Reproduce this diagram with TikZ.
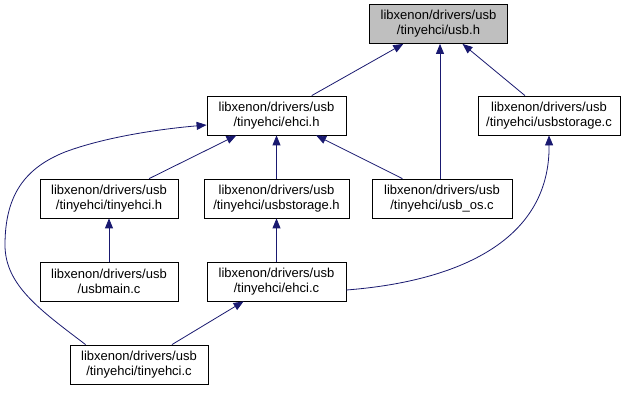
\documentclass[tikz,border=0pt]{standalone}
\usepackage{fontspec}
\setmainfont{Liberation Sans}
\usetikzlibrary{arrows.meta,calc}
\definecolor{edgecol}{HTML}{191970}
\definecolor{nodegray}{HTML}{BFBFBF}
\begin{document}
\begin{tikzpicture}[x=1pt,y=-1pt,
  box/.style={draw=black, fill=white, line width=0.8pt, minimum height=39pt, inner sep=0pt, align=center, font=\fontsize{13}{15}\selectfont},
  edge/.style={draw=edgecol, line width=0.8pt, -{Triangle[length=10pt,width=8pt]}}]
\useasboundingbox[fill=white] (0,0) rectangle (630,409);
\node[box, fill=nodegray, minimum width=138pt] (usbh) at (438.5,24) {libxenon/drivers/usb\\/tinyehci/usb.h};
\node[box, minimum width=139pt] (ehcih) at (276.5,115.5) {libxenon/drivers/usb\\/tinyehci/ehci.h};
\node[box, minimum width=142pt] (usbstc) at (549,115.5) {libxenon/drivers/usb\\/tinyehci/usbstorage.c};
\node[box, minimum width=138pt] (tinyh) at (109,198.5) {libxenon/drivers/usb\\/tinyehci/tinyehci.h};
\node[box, minimum width=145pt] (usbsth) at (276.5,198.5) {libxenon/drivers/usb\\/tinyehci/usbstorage.h};
\node[box, minimum width=140pt] (usbos) at (442,198.5) {libxenon/drivers/usb\\/tinyehci/usb\_os.c};
\node[box, minimum width=138pt] (usbmain) at (109,281.5) {libxenon/drivers/usb\\/usbmain.c};
\node[box, minimum width=139pt] (ehcic) at (276.5,281.5) {libxenon/drivers/usb\\/tinyehci/ehci.c};
\node[box, minimum width=138pt] (tinyc) at (139,364.5) {libxenon/drivers/usb\\/tinyehci/tinyehci.c};

\draw[edge] (ehcih) -- (usbh);
\draw[edge] (usbos.north -| 440,0) -- (usbh.south -| 440,0);
\draw[edge] (usbstc) -- (usbh);
\draw[edge] (tinyh) -- (ehcih);
\draw[edge] (usbsth) -- (ehcih);
\draw[edge] (usbos) -- (ehcih);
\draw[edge] (usbmain) -- (tinyh);
\draw[edge] (ehcic) -- (usbsth);
\draw[edge] (tinyc) -- (ehcic);
\coordinate (c1s) at ($(tinyc.north west)+(16,0)$);
\coordinate (c1e) at ($(ehcih.west)+(0,9.5)$);
\draw[edge] (c1s) .. controls (40,310) and (5,285) .. (5,245)
  .. controls (5,195) and (25,168) .. (65,152)
  .. controls (105,137) and (160,129) .. (c1e);
\coordinate (c2s) at ($(ehcic.east)+(0,8.5)$);
\draw[edge] (c2s) .. controls (450,282) and (550,245) .. (usbstc.south);
\end{tikzpicture}
\end{document}
